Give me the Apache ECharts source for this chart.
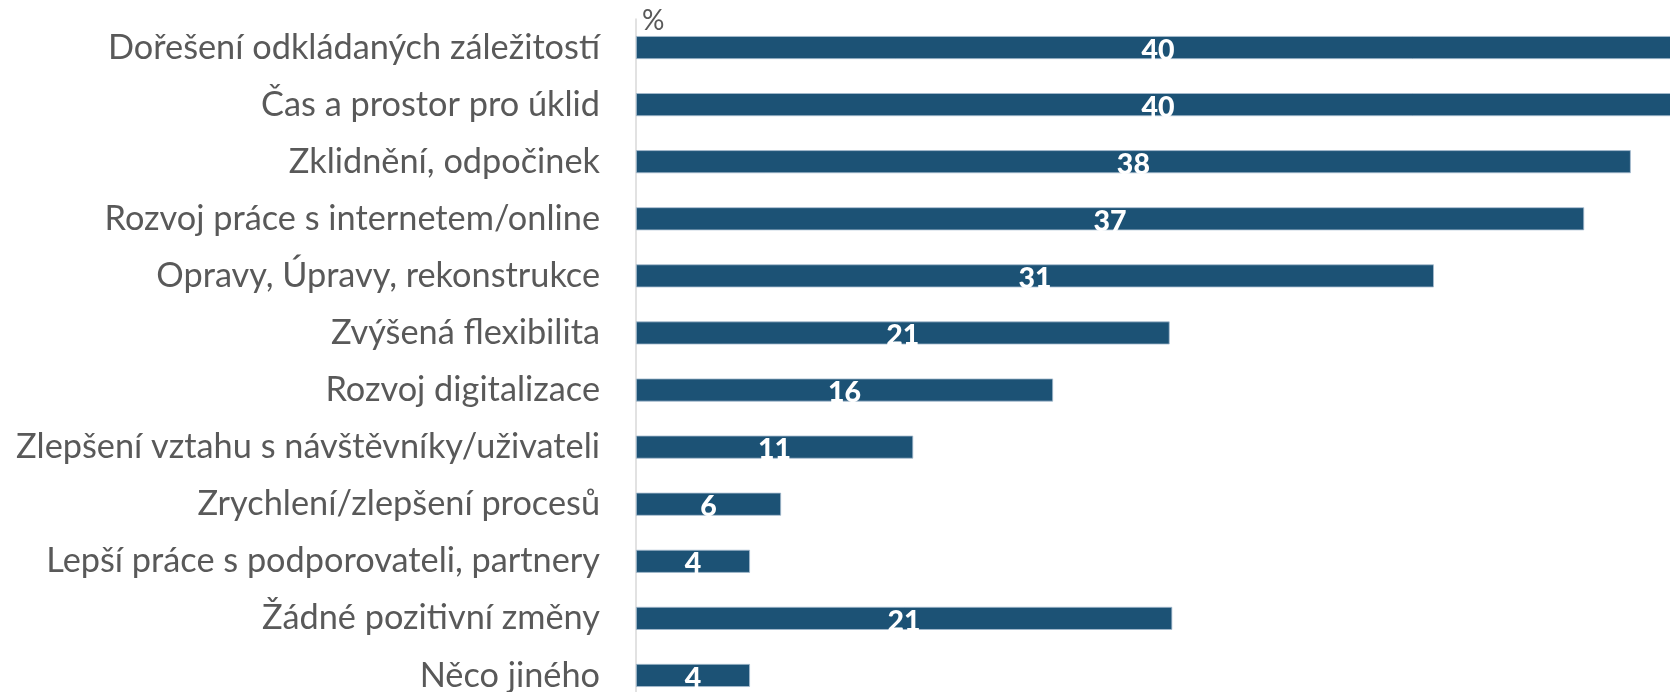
<!DOCTYPE html>
<html>
<head>
<meta charset="utf-8">
<script src="https://cdn.jsdelivr.net/npm/echarts@6/dist/echarts.min.js"></script>
<style>
html,body{margin:0;padding:0;background:#fff;}
#chart{width:1670px;height:692px;}
</style>
</head>
<body>
<div id="chart"></div>
<script>
const categories = [
  "Dořešení odkládaných záležitostí",
  "Čas a prostor pro úklid",
  "Zklidnění, odpočinek",
  "Rozvoj práce s internetem/online",
  "Opravy, Úpravy, rekonstrukce",
  "Zvýšená flexibilita",
  "Rozvoj digitalizace",
  "Zlepšení vztahu s návštěvníky/uživateli",
  "Zrychlení/zlepšení procesů",
  "Lepší práce s podporovateli, partnery",
  "Žádné pozitivní změny",
  "Něco jiného"
];
const values = [40.3, 40.3, 38.4, 36.6, 30.8, 20.6, 16.1, 10.7, 5.6, 4.4, 20.7, 4.4];
const unitLabel = "%";

const chart = echarts.init(document.getElementById('chart'));
chart.setOption({
  backgroundColor: '#ffffff',
  animation: false,
  grid: { left: 636, width: 1044, top: 19, height: 685, containLabel: false, outerBoundsMode: 'none' },
  xAxis: {
    type: 'value', min: 0, max: 40.3,
    show: false
  },
  yAxis: {
    type: 'category', data: categories, inverse: true,
    axisLine: { show: true, lineStyle: { color: '#d9d9d9', width: 1.5 } },
    axisTick: { show: false },
    axisLabel: {
      margin: 36, color: '#595959', fontFamily: 'Lato', fontSize: 34.3
    }
  },
  graphic: [{
    type: 'text', left: 642, top: 7,
    style: { text: unitLabel, fill: '#595959', font: '28px Lato' }
  }],
  series: [{
    type: 'bar', data: values, barWidth: 23,
    itemStyle: { color: '#1c5275', borderColor: '#a7bdcf', borderWidth: 0.8 },
    label: {
      show: true, position: 'inside', color: '#ffffff',
      fontFamily: 'Lato', fontWeight: 900, fontSize: 28.5,
      offset: [0, 3],
      formatter: p => Math.round(p.value)
    }
  }]
});
</script>
</body>
</html>
